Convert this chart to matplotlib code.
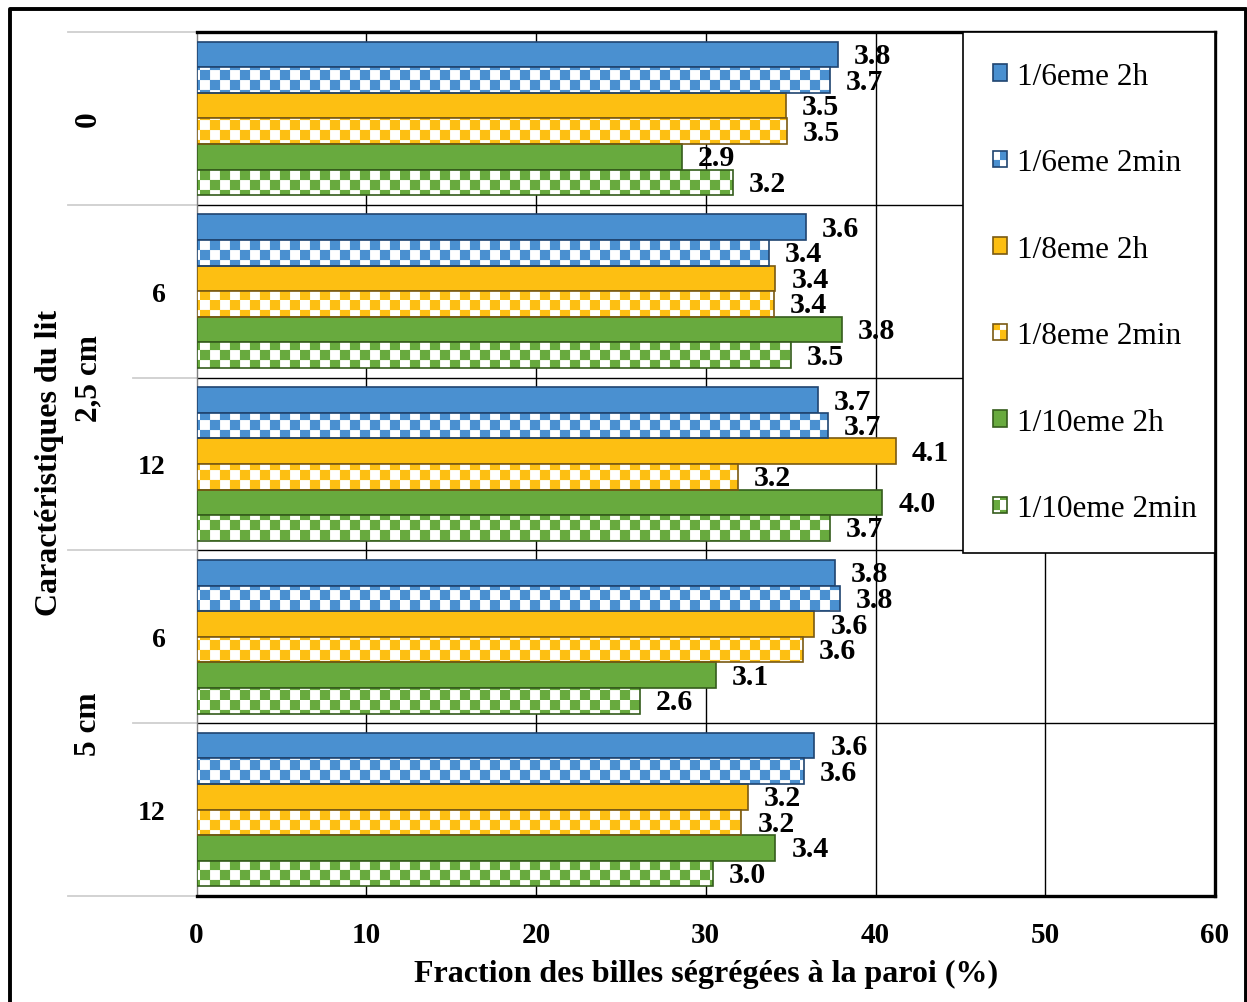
import numpy as np
import matplotlib
matplotlib.use('Agg')
import matplotlib.pyplot as plt
import matplotlib.hatch as mhatch
import matplotlib.transforms as mtransforms
from matplotlib.path import Path
from matplotlib.patches import Patch
from matplotlib.legend_handler import HandlerTuple
from matplotlib.lines import Line2D

# ---------------- data ----------------
outer_labels = ['0', '2,5 cm', '5 cm']
outer_pos = [0, 1.5, 3.5]
inner_labels = ['', '6', '12', '6', '12']
series_names = ['1/6eme 2h', '1/6eme 2min', '1/8eme 2h',
                '1/8eme 2min', '1/10eme 2h', '1/10eme 2min']
v_6_2h = [37.8, 35.9, 36.6, 37.6, 36.4]
v_6_2min = [37.3, 33.7, 37.2, 37.9, 35.8]
v_8_2h = [34.7, 34.1, 41.2, 36.4, 32.5]
v_8_2min = [34.8, 34.0, 31.9, 35.7, 32.1]
v_10_2h = [28.6, 38.0, 40.4, 30.6, 34.1]
v_10_2min = [31.6, 35.0, 37.3, 26.1, 30.4]
l_6_2h = [3.8, 3.6, 3.7, 3.8, 3.6]
l_6_2min = [3.7, 3.4, 3.7, 3.8, 3.6]
l_8_2h = [3.5, 3.4, 4.1, 3.6, 3.2]
l_8_2min = [3.5, 3.4, 3.2, 3.6, 3.2]
l_10_2h = [2.9, 3.8, 4.0, 3.1, 3.4]
l_10_2min = [3.2, 3.5, 3.7, 2.6, 3.0]
values = [v_6_2h, v_6_2min, v_8_2h, v_8_2min, v_10_2h, v_10_2min]
labels = [l_6_2h, l_6_2min, l_8_2h, l_8_2min, l_10_2h, l_10_2min]
x_ticks = [0, 10, 20, 30, 40, 50, 60]

colors = ['#4A90D0', '#FDBF12', '#68AA3E']
edges = ['#1F4470', '#7A5A12', '#355C1C']


# ------------- checkerboard hatch -------------
class CheckerHatch(mhatch.HatchPatternBase):
    N = 10

    def __init__(self, hatch, density):
        self.on = hatch.count('O') > 0
        n = self.N
        self.num_vertices = (n * n // 2) * 5 if self.on else 0

    def set_vertices_and_codes(self, vertices, codes):
        n = self.N
        s = 1.0 / n
        sq = np.array([[0, 0], [s, 0], [s, s], [0, s], [0, 0]], float)
        c = [Path.MOVETO, Path.LINETO, Path.LINETO, Path.LINETO, Path.CLOSEPOLY]
        k = 0
        for i in range(n):
            for j in range(n):
                if (i + j) % 2 == 0:
                    vertices[k:k + 5] = sq + [i * s, j * s]
                    codes[k:k + 5] = c
                    k += 5


mhatch._hatch_types[:] = [t for t in mhatch._hatch_types
                          if t is not mhatch.LargeCircles] + [CheckerHatch]
plt.rcParams['hatch.linewidth'] = 0.1
plt.rcParams['font.family'] = ['Liberation Serif', 'DejaVu Serif']

W, H = 1247, 1003
fig = plt.figure(figsize=(W / 100, H / 100), dpi=100)
x0, x1, yt, yb = 196.5, 1215, 33, 897
ax = fig.add_axes([x0 / W, 1 - yb / H, (x1 - x0) / W, (yb - yt) / H])

ngroups = len(inner_labels)
h = 0.148
handles = []
for k, name in enumerate(series_names):
    ypos = np.arange(ngroups) + (k - 2.5) * h
    vals = values[k]
    col = colors[k // 2]
    edge = edges[k // 2]
    if k % 2 == 0:
        ax.barh(ypos, vals, height=h, color=col, edgecolor=edge,
                linewidth=1.2, zorder=3)
        handles.append((Patch(facecolor=col, edgecolor=edge, linewidth=1.2),))
    else:
        ax.barh(ypos, vals, height=h, facecolor='white', edgecolor=col,
                linewidth=0, hatch='O', zorder=3)
        ax.barh(ypos, vals, height=h, facecolor='none', edgecolor=edge,
                linewidth=1.2, zorder=4)
        handles.append((Patch(facecolor='white', edgecolor=col, linewidth=0, hatch='O'),
                        Patch(facecolor='none', edgecolor=edge, linewidth=1.2)))
    for yy, vv, ll in zip(ypos, vals, labels[k]):
        ax.annotate(f'{ll:.1f}', xy=(vv, yy), xytext=(16, -1),
                    textcoords='offset pixels', va='center', ha='left',
                    fontsize=21.5, fontweight='bold', zorder=6)

ax.set_xlim(0, 60)
ax.set_ylim(ngroups - 0.5, -0.5)
ax.set_xticks(x_ticks)
ax.set_xticklabels([str(t) for t in x_ticks], fontsize=21, fontweight='bold')
ax.tick_params(axis='x', length=0, pad=18)
ax.set_yticks(np.arange(ngroups))
ax.set_yticklabels(inner_labels, fontsize=20, fontweight='bold')
ax.tick_params(axis='y', length=0, pad=22)

for xv in x_ticks[1:-1]:
    ax.axvline(xv, color='black', lw=1.0, zorder=1)
for yv in np.arange(0.5, ngroups - 0.5, 1):
    ax.axhline(yv, color='black', lw=1.0, zorder=1)

for side in ['top', 'right', 'bottom']:
    ax.spines[side].set_linewidth(2.4)
    ax.spines[side].set_color('black')
ax.spines['left'].set_linewidth(1.0)
ax.spines['left'].set_color('#7F7F7F')

# multi-level category ticks
tr = mtransforms.blended_transform_factory(ax.transAxes, ax.transData)
for yv in [-0.5, 0.5, 2.5, 4.5]:
    ax.plot([-0.126, 0], [yv, yv], transform=tr, color='#CFCFCF', lw=1.3,
            clip_on=False, zorder=0)
for yv in [1.5, 3.5]:
    ax.plot([-0.0625, 0], [yv, yv], transform=tr, color='#CFCFCF', lw=1.3,
            clip_on=False, zorder=0)
for lab, yp in zip(outer_labels, outer_pos):
    ax.text(-0.106, yp, lab, transform=tr, rotation=90, ha='center',
            va='center', fontsize=22.5, fontweight='bold')

ax.set_ylabel('Caractéristiques du lit', fontsize=23, fontweight='bold')
ax.yaxis.set_label_coords(-0.130, 0.502)
ax.set_xlabel('Fraction des billes ségrégées à la paroi (%)', fontsize=23,
              fontweight='bold', labelpad=8)

lx0 = (963 - x0) / (x1 - x0)
ly0 = (yb - 551) / (yb - yt)
leg = ax.legend(handles, series_names,
                handler_map={tuple: HandlerTuple(ndivide=1, pad=0)},
                loc='upper left', bbox_to_anchor=(lx0, ly0, 1 - lx0, 1 - ly0),
                mode='expand', borderaxespad=0, fontsize=22.5, frameon=True,
                fancybox=False, edgecolor='black', framealpha=1,
                handlelength=0.45, handleheight=0.45, handletextpad=0.33,
                labelspacing=1.84, borderpad=0.95)
leg.get_frame().set_linewidth(1.2)
leg.set_zorder(10)

# outer figure frame
fig.add_artist(Line2D([9.5 / W, 9.5 / W, 1245.5 / W, 1245.5 / W],
                      [0, 1 - 10 / H, 1 - 10 / H, 0],
                      transform=fig.transFigure, color='black', lw=2.8))

fig.savefig('out.png', dpi=100)
